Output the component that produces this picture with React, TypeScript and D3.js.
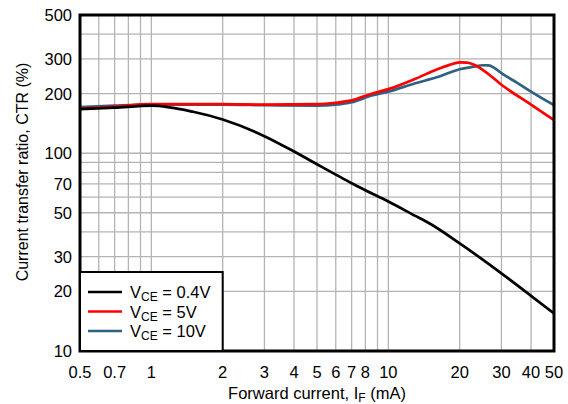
import React from "react";
import * as d3 from "d3";

const ifVce04 = [0.5, 0.7, 1, 1.5, 2, 3, 4, 5, 6, 7, 8, 10, 13, 15, 20, 30, 40, 50];
const ctrVce04 = [167, 170, 174, 162, 148, 122, 102, 88, 78, 70.5, 65, 57, 48.2, 44, 35, 24.7, 19, 15.5];

const ifVce5 = [0.5, 0.7, 1, 2, 3, 5, 6, 7, 8.5, 10, 13, 16, 18, 20, 21.5, 23, 25.7, 30, 40, 50];
const ctrVce5 = [168, 172, 177, 177, 176, 177, 180, 185, 200, 211, 238, 265, 279, 288, 287, 280, 258, 222, 176, 147];

const ifVce10 = [0.5, 0.7, 1, 2, 3, 5, 6, 7, 8.5, 10, 13, 16, 20, 23, 25, 26.5, 28, 30, 35, 40, 50];
const ctrVce10 = [171, 174, 176, 176, 175, 174, 176, 181, 196, 205, 226, 242, 266, 274, 278.5, 278, 270, 254, 227, 205, 175];

const xTickLabels = [0.5, 0.7, 1, 2, 3, 4, 5, 6, 7, 8, 10, 20, 30, 40, 50];
const yTickLabels = [10, 20, 30, 50, 70, 100, 200, 300, 500];
const xGrid = [0.5, 0.6, 0.7, 0.8, 0.9, 1, 2, 3, 4, 5, 6, 7, 8, 9, 10, 20, 30, 40, 50];
const yGrid = [10, 20, 30, 40, 50, 60, 70, 80, 90, 100, 200, 300, 400, 500];

const seriesNames = ["0.4V", "5V", "10V"];
const seriesColors = ["#000000", "#ff0000", "#2e6282"];

const W = 568, H = 404;
const L = 80, R = 554, T = 15, B = 351;
const FONT = "'Liberation Sans', Arial, sans-serif";
const FS = 16.5;

export default function App() {
  const x = d3.scaleLog().domain([0.5, 50]).range([L, R]);
  const y = d3.scaleLog().domain([10, 500]).range([B, T]);
  const line = d3
    .line<[number, number]>()
    .x((d) => x(d[0]))
    .y((d) => y(d[1]))
    .curve(d3.curveMonotoneX);
  const series = [
    ifVce04.map((v, i) => [v, ctrVce04[i]] as [number, number]),
    ifVce5.map((v, i) => [v, ctrVce5[i]] as [number, number]),
    ifVce10.map((v, i) => [v, ctrVce10[i]] as [number, number]),
  ];
  const legX = x(0.5), legR = x(2), legT = 272;
  return (
    <svg width={W} height={H} style={{ position: "absolute", left: 0, top: 0, fontFamily: FONT }}>
      <rect x={0} y={0} width={W} height={H} fill="#fff" />
      <defs>
        <clipPath id="plot">
          <rect x={L} y={T} width={R - L} height={B - T} />
        </clipPath>
      </defs>
      {xGrid.map((v) => (
        <line key={"xg" + v} x1={x(v)} x2={x(v)} y1={T} y2={B} stroke="#b4b4b4" strokeWidth={1.3} />
      ))}
      {yGrid.map((v) => (
        <line key={"yg" + v} x1={L} x2={R} y1={y(v)} y2={y(v)} stroke="#b4b4b4" strokeWidth={1.3} />
      ))}
      <g clipPath="url(#plot)">
        {[2, 1, 0].map((i) => (
          <path key={i} d={line(series[i]) || ""} fill="none" stroke={seriesColors[i]} strokeWidth={2.7} />
        ))}
      </g>
      <rect x={L} y={T} width={R - L} height={B - T} fill="none" stroke="#000" strokeWidth={3} />
      {/* legend */}
      <rect x={legX} y={legT} width={legR - legX} height={B - legT} fill="#fff" stroke="#000" strokeWidth={2} />
      {seriesNames.map((n, i) => {
        const ly = 292 + i * 19.5;
        return (
          <g key={n}>
            <line x1={88} x2={122} y1={ly} y2={ly} stroke={seriesColors[i]} strokeWidth={2.7} />
            <text x={130} y={ly + 6} fontSize={FS} fill="#000">
              V<tspan fontSize={12} dy={3}>CE</tspan>
              <tspan dy={-3}>{" = " + n}</tspan>
            </text>
          </g>
        );
      })}
      {xTickLabels.map((v) => (
        <text key={"xt" + v} x={x(v)} y={378} fontSize={FS} textAnchor="middle" fill="#000">
          {v}
        </text>
      ))}
      {yTickLabels.map((v) => (
        <text key={"yt" + v} x={72} y={y(v) + 6} fontSize={FS} textAnchor="end" fill="#000">
          {v}
        </text>
      ))}
      <text x={(L + R) / 2} y={399} fontSize={FS} textAnchor="middle" fill="#000">
        Forward current, I<tspan fontSize={12} dy={3}>F</tspan>
        <tspan dy={-3}> (mA)</tspan>
      </text>
      <text
        transform={`translate(28, 172) rotate(-90)`}
        fontSize={16}
        textAnchor="middle"
        fill="#000"
      >
        Current transfer ratio, CTR (%)
      </text>
    </svg>
  );
}
